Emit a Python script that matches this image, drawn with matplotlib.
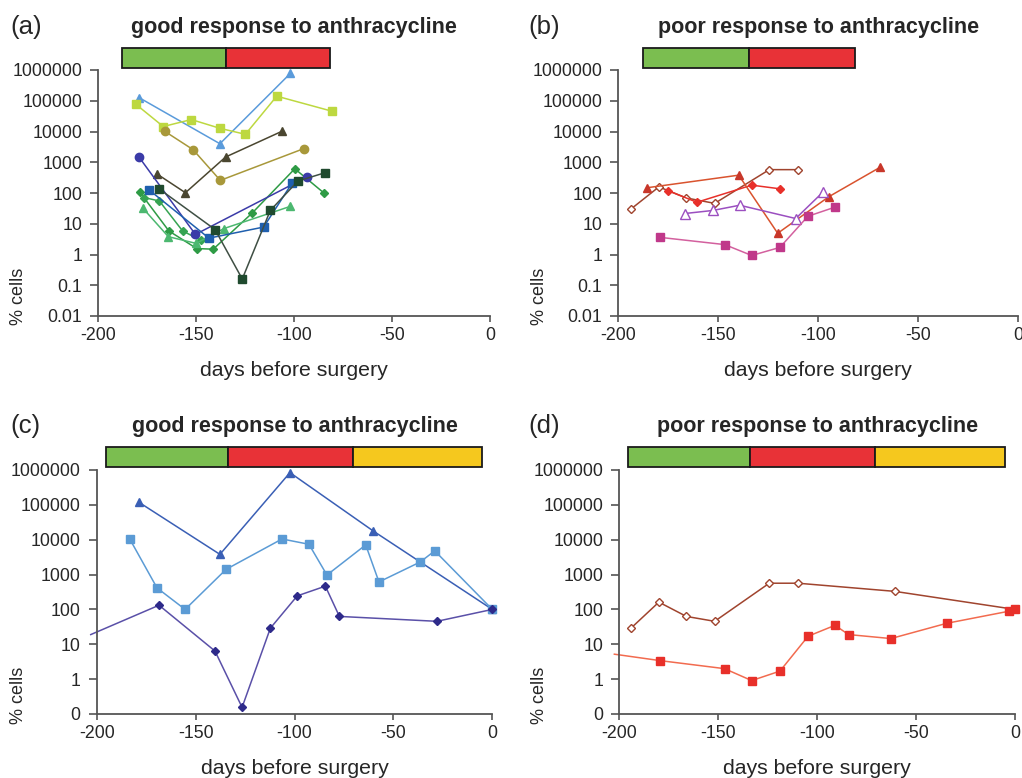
import matplotlib
matplotlib.use("Agg")
from matplotlib import pyplot as plt
from matplotlib.patches import Rectangle
from matplotlib.transforms import blended_transform_factory

plt.rcParams['font.family'] = ['Liberation Sans', 'DejaVu Sans']

# ---------------- data (days before surgery, % cells) ----------------
# panel (a) good response
a_tri_blue_x   = [-179.1, -137.8, -101.9]
a_tri_blue_y   = [127000, 4000, 770000]
a_sq_lime_x    = [-180.6, -166.7, -152.4, -137.6, -124.8, -108.8, -80.8]
a_sq_lime_y    = [76000, 14500, 24500, 12600, 8100, 141000, 46000]
a_circ_olive_x = [-166.0, -151.5, -137.6, -95.1]
a_circ_olive_y = [10200, 2570, 257, 2760]
a_tri_dark_x   = [-170.1, -155.4, -134.9, -106.1]
a_tri_dark_y   = [424, 102, 1480, 10200]
a_circ_ind_x   = [-179.1, -150.3, -93.2]
a_circ_ind_y   = [1480, 4.5, 338]
a_sq_blue_x    = [-174.0, -143.4, -115.5, -101.0]
a_sq_blue_y    = [127, 3.4, 7.8, 209]
a_sq_dkgrn_x   = [-168.9, -140.3, -126.4, -112.1, -98.0, -84.0]
a_sq_dkgrn_y   = [137, 6.5, 0.16, 27, 245, 460]
a_dia_g1_x     = [-178.6, -163.8, -149.6, -141.2, -121.3, -99.6, -84.8]
a_dia_g1_y     = [105, 5.8, 1.56, 1.49, 22.4, 614, 101]
a_dia_g2_x     = [-176.4, -168.7, -156.8, -147.4]
a_dia_g2_y     = [71, 55, 5.8, 2.9]
a_tri_grn_x    = [-177.2, -164.1, -150.0, -135.7, -101.9]
a_tri_grn_y    = [32.6, 3.8, 2.3, 7.0, 36.7]

# panel (b) poor response
b_dia_open_x  = [-193.7, -179.7, -166.0, -151.8, -124.5, -110.2]
b_dia_open_y  = [30, 158, 69, 46, 575, 575]
b_dia_red_x   = [-175.0, -160.7, -133.3, -119.2]
b_dia_red_y   = [118, 50, 180, 137]
b_tri_red_x   = [-185.7, -139.8, -120.3, -94.7, -69.2]
b_tri_red_y   = [148, 380, 4.9, 76, 680]
b_tri_open_x  = [-166.8, -152.8, -139.3, -111.3, -97.8]
b_tri_open_y  = [21.5, 27, 40, 14.8, 105]
b_sq_mag_x    = [-179.0, -146.8, -133.3, -119.2, -105.2, -91.7]
b_sq_mag_y    = [3.6, 2.1, 0.93, 1.7, 17.5, 34.6]

# panel (c) good response, longer follow-up
c_tri_x = [-178.6, -137.7, -102.3, -60.2, 0]
c_tri_y = [118000, 3800, 840000, 17800, 100]
c_sq_x  = [-183.3, -169.5, -155.3, -134.6, -106.3, -92.7, -83.6, -64.0, -57.3, -36.4, -29.1, 0]
c_sq_y  = [10500, 414, 100, 1410, 10500, 7400, 970, 7100, 615, 2300, 4800, 100]
c_dia_x = [-203, -168.5, -140.2, -126.5, -112.2, -98.6, -84.4, -77.3, -28.0, 0]
c_dia_y = [19, 132, 6.4, 0.155, 29, 245, 465, 63, 45.6, 100]

# panel (d) poor response, longer follow-up
d_dia_x = [-194.1, -180.0, -166.1, -151.8, -124.2, -109.7, -60.8, 0]
d_dia_y = [29, 162, 63, 45.6, 565, 565, 330, 100]
d_sq_x  = [-202.5, -179.4, -146.8, -133.1, -118.8, -104.6, -91.0, -84.1, -62.7, -34.5, -3, 0]
d_sq_y  = [5.2, 3.4, 2.0, 0.91, 1.7, 17, 35, 19, 14.6, 40, 89, 100]

xticks      = [-200, -150, -100, -50, 0]
yticks_ab   = [1e6, 1e5, 1e4, 1e3, 1e2, 10, 1, 0.1, 0.01]
ylabels_ab  = ['1000000', '100000', '10000', '1000', '100', '10', '1', '0.1', '0.01']
yticks_cd   = [1e6, 1e5, 1e4, 1e3, 1e2, 10, 1, 0.1]
ylabels_cd  = ['1000000', '100000', '10000', '1000', '100', '10', '1', '0']

bar_ab = [(-187.6, -134.7, '#7BBE50'), (-134.7, -81.6, '#E83237')]
bar_cd = [(-195.5, -133.7, '#7BBE50'), (-133.7, -70.6, '#E83237'), (-70.6, -5.2, '#F5C81E')]

W, H = 1022, 778
fig = plt.figure(figsize=(W / 100, H / 100), dpi=100)
TXT = '#262626'
AX = '#555555'


def style_axis(ax, yticks, ylabels, ylo):
    ax.set_yscale('log')
    ax.set_xlim(-200, 0)
    ax.set_ylim(ylo, 1e6)
    ax.set_xticks(xticks)
    ax.set_xticklabels([str(t) for t in xticks])
    ax.set_yticks(yticks)
    ax.set_yticklabels(ylabels)
    ax.minorticks_off()
    for s in ['top', 'right']:
        ax.spines[s].set_visible(False)
    for s in ['left', 'bottom']:
        ax.spines[s].set_color(AX)
        ax.spines[s].set_linewidth(1.3)
    ax.tick_params(axis='y', direction='out', length=6, width=1.2, color=AX,
                   labelsize=12.8, labelcolor=TXT, pad=5.5)
    ax.tick_params(axis='x', direction='out', length=4, width=1.2, color=AX,
                   labelsize=12.8, labelcolor=TXT, pad=4)
    ax.set_xlabel('days before surgery', fontsize=15.3, color=TXT, labelpad=12)


def draw_bar(ax, segs, y0, y1):
    tr = blended_transform_factory(ax.transData, ax.transAxes)
    for x0, x1, col in segs:
        ax.add_patch(Rectangle((x0, y0), x1 - x0, y1 - y0, transform=tr,
                               facecolor=col, edgecolor='#1a1a1a', lw=1.3, clip_on=False))


def line(ax, x, y, color, marker, ms, mfc=None, lc=None, lw=1.1, every=None):
    ax.plot(x, y, color=lc or color, lw=lw, marker=marker, ms=ms,
            mfc=mfc or color, mec=color, mew=1.0, clip_on=False, markevery=every)


# panel positions from pixels
ax_a = fig.add_axes([98 / W, 1 - 316 / H, 392 / W, 246 / H])
ax_b = fig.add_axes([618.3 / W, 1 - 316 / H, 400 / W, 246 / H])
ax_c = fig.add_axes([96.7 / W, 1 - 714 / H, 395.6 / W, 244 / H])
ax_d = fig.add_axes([619.3 / W, 1 - 714 / H, 395.7 / W, 244 / H])

for ax in (ax_a, ax_b):
    style_axis(ax, yticks_ab, ylabels_ab, 0.01)
    draw_bar(ax, bar_ab, 1.008, 1.088)
for ax in (ax_c, ax_d):
    style_axis(ax, yticks_cd, ylabels_cd, 0.1)
    draw_bar(ax, bar_cd, 1.011, 1.093)

# (a)
line(ax_a, a_tri_blue_x, a_tri_blue_y, '#5A9BDB', '^', 6)
line(ax_a, a_sq_lime_x, a_sq_lime_y, '#BDD840', 's', 6)
line(ax_a, a_circ_olive_x, a_circ_olive_y, '#A8983A', 'o', 6)
line(ax_a, a_tri_dark_x, a_tri_dark_y, '#4A4630', '^', 6)
line(ax_a, a_dia_g1_x, a_dia_g1_y, '#2E9B45', 'D', 4.2)
line(ax_a, a_dia_g2_x, a_dia_g2_y, '#36A452', 'D', 4.2)
line(ax_a, a_tri_grn_x, a_tri_grn_y, '#4CB870', '^', 5.5)
line(ax_a, a_circ_ind_x, a_circ_ind_y, '#3B3BA8', 'o', 6)
line(ax_a, a_sq_blue_x, a_sq_blue_y, '#1F5FAE', 's', 6)
line(ax_a, a_sq_dkgrn_x, a_sq_dkgrn_y, '#1F4A2E', 's', 6, lc='#3F4F44')

# (b)
line(ax_b, b_dia_open_x, b_dia_open_y, '#A0442E', 'D', 4.5, mfc='white')
line(ax_b, b_dia_red_x, b_dia_red_y, '#E8302A', 'D', 4.5)
line(ax_b, b_tri_red_x, b_tri_red_y, '#C8372A', '^', 6, lc='#D9532E')
line(ax_b, b_tri_open_x, b_tri_open_y, '#9B4FC0', '^', 6.5, mfc='white')
line(ax_b, b_sq_mag_x, b_sq_mag_y, '#C0388A', 's', 6, lc='#D3609E')

# (c)
line(ax_c, c_tri_x, c_tri_y, '#3A5FB5', '^', 5.5)
line(ax_c, c_sq_x, c_sq_y, '#5B9BD5', 's', 5.5)
line(ax_c, c_dia_x, c_dia_y, '#2E2A8A', 'D', 4, lc='#5A50A8', every=list(range(1, len(c_dia_x))))

# (d)
line(ax_d, d_dia_x, d_dia_y, '#A0442E', 'D', 4, mfc='white')
line(ax_d, d_sq_x, d_sq_y, '#E8302A', 's', 5.5, lc='#F26B4F', every=list(range(1, len(d_sq_x))))

# titles, panel letters, y labels
titles = [('(a)', 'good response to anthracycline', ax_a, 33),
          ('(b)', 'poor response to anthracycline', ax_b, 33),
          ('(c)', 'good response to anthracycline', ax_c, 432),
          ('(d)', 'poor response to anthracycline', ax_d, 432)]
for letter, title, ax, ybase in titles:
    pos = ax.get_position()
    lx = 10 / W if pos.x0 < 0.5 else 528 / W
    fig.text(lx, 1 - (ybase + 1) / H, letter, fontsize=18.5, color=TXT, va='baseline')
    fig.text(pos.x0 + pos.width / 2, 1 - ybase / H, title, fontsize=15.5,
             fontweight='bold', color=TXT, ha='center', va='baseline')
    ylx = 18.5 / W if pos.x0 < 0.5 else 540 / W
    yly = 1 - 296 / H if pos.y0 > 0.5 else 1 - 695 / H
    fig.text(ylx, yly, '% cells', rotation=90, fontsize=13, color=TXT,
             ha='center', va='center')

fig.savefig('out.png', dpi=100)
